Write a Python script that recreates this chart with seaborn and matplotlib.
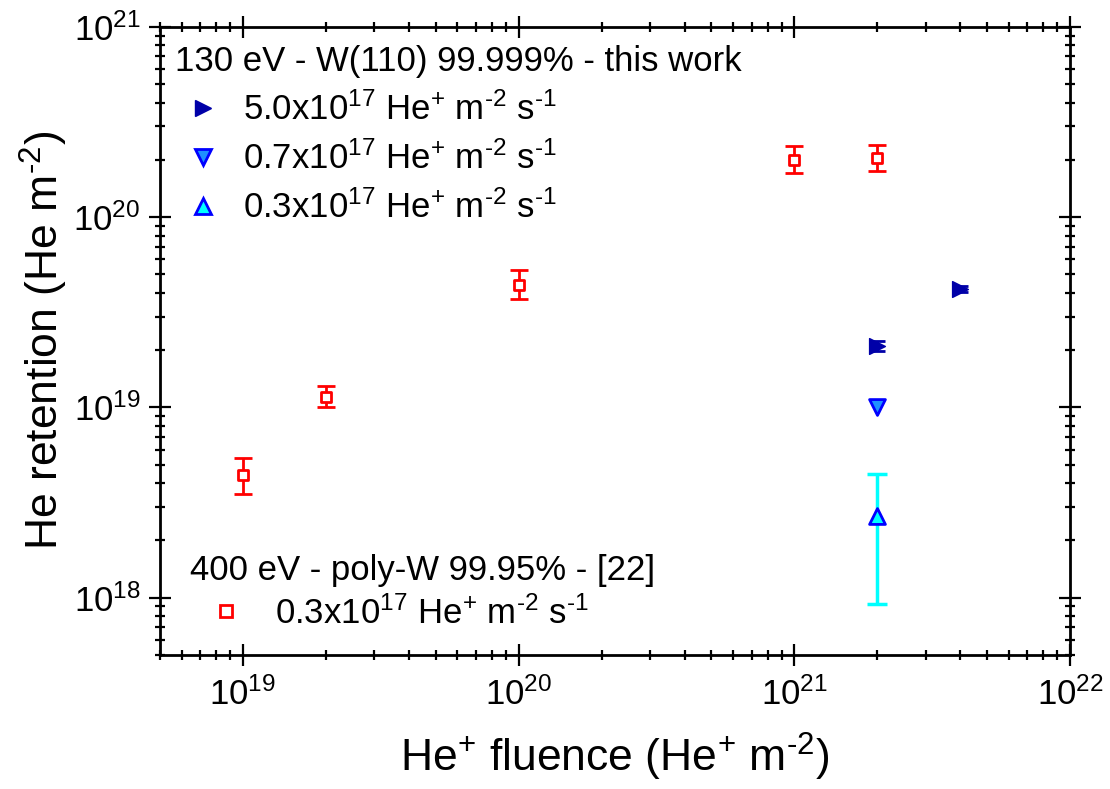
import numpy as np
import pandas as pd
import matplotlib
matplotlib.use("Agg")
import matplotlib.pyplot as plt
import seaborn as sns
from matplotlib.ticker import LogLocator, FuncFormatter, NullFormatter
from matplotlib.lines import Line2D

sns.set_theme(style="ticks")
plt.rcParams['font.family'] = ['Liberation Sans', 'DejaVu Sans']
plt.rcParams['mathtext.fontset'] = 'custom'
plt.rcParams['mathtext.rm'] = 'Liberation Sans'
plt.rcParams['mathtext.it'] = 'Liberation Sans:italic'
plt.rcParams['mathtext.bf'] = 'Liberation Sans:bold'
plt.rcParams['text.color'] = 'black'
plt.rcParams['axes.labelcolor'] = 'black'

# ---- data ----
# 400 eV poly-W, 0.3e17 flux (ref [22])
ref_x = [1e19, 2e19, 1e20, 1e21, 2e21]
ref_y = [4.4e18, 1.14e19, 4.4e19, 2.0e20, 2.05e20]
ref_lo = [3.5e18, 1.0e19, 3.7e19, 1.7e20, 1.75e20]
ref_hi = [5.4e18, 1.29e19, 5.25e19, 2.35e20, 2.38e20]

# this work, 5.0e17 flux
f50_x = [2e21, 4e21]
f50_y = [2.1e19, 4.2e19]
f50_lo = [1.98e19, 4.05e19]
f50_hi = [2.23e19, 4.35e19]

# this work, 0.7e17 flux
f07_x = [2e21]
f07_y = [1.0e19]

# this work, 0.3e17 flux
f03_x = [2e21]
f03_y = [2.7e18]
f03_lo = [9.3e17]
f03_hi = [4.45e18]

xlim = (5e18, 1e22)
ylim = (5e17, 1e21)

unit = r"He$^{+}$ m$^{\text{-2}}$ s$^{\text{-1}}$"
label_50 = r"5.0x10$^{17}$ " + unit
label_07 = r"0.7x10$^{17}$ " + unit
label_03 = r"0.3x10$^{17}$ " + unit
label_ref = r"0.3x10$^{17}$ " + unit
title_top = "130 eV - W(110) 99.999% - this work"
title_bot = "400 eV - poly-W 99.95% - [22]"
xlabel = r"He$^{+}$ fluence (He$^{+}$ m$^{\text{-2}}$)"
ylabel = r"He retention (He m$^{\text{-2}}$)"

# ---- styles ----
c_red = "#FF0000"
c_navy = "#0000A8"
c_blue = "#0000FF"
c_mid = "#1E90FF"
c_cyan = "#00FFFF"

fig = plt.figure(figsize=(11.1, 7.89), dpi=100)
ax = fig.add_axes([0.144, 0.170, 0.820, 0.796])
ax.set_xscale("log")
ax.set_yscale("log")

def yerr(y, lo, hi):
    y = np.array(y); lo = np.array(lo); hi = np.array(hi)
    return np.vstack([y - lo, hi - y])

# error bars
ax.errorbar(ref_x, ref_y, yerr=yerr(ref_y, ref_lo, ref_hi), fmt="none",
            ecolor=c_red, elinewidth=2.0, capsize=6.5, capthick=2.0, zorder=2)
ax.errorbar(f50_x, f50_y, yerr=yerr(f50_y, f50_lo, f50_hi), fmt="none",
            ecolor=c_navy, elinewidth=2.0, capsize=6, capthick=2.0, zorder=2)
ax.errorbar(f03_x, f03_y, yerr=yerr(f03_y, f03_lo, f03_hi), fmt="none",
            ecolor=c_cyan, elinewidth=2.5, capsize=7, capthick=2.5, zorder=2)

# markers via seaborn
df_ref = pd.DataFrame({"x": ref_x, "y": ref_y})
df_50 = pd.DataFrame({"x": f50_x, "y": f50_y})
df_07 = pd.DataFrame({"x": f07_x, "y": f07_y})
df_03 = pd.DataFrame({"x": f03_x, "y": f03_y})

sns.scatterplot(data=df_ref, x="x", y="y", ax=ax, marker="s", s=60,
                facecolor="white", edgecolor=c_red, linewidth=2.0, zorder=3, legend=False)
sns.scatterplot(data=df_50, x="x", y="y", ax=ax, marker=">", s=130,
                color=c_navy, edgecolor=c_navy, linewidth=1.0, zorder=3, legend=False)
sns.scatterplot(data=df_07, x="x", y="y", ax=ax, marker="v", s=130,
                color=c_mid, edgecolor=c_blue, linewidth=2.0, zorder=3, legend=False)
sns.scatterplot(data=df_03, x="x", y="y", ax=ax, marker="^", s=130,
                color=c_cyan, edgecolor=c_blue, linewidth=2.0, zorder=3, legend=False)

ax.set_xlim(*xlim)
ax.set_ylim(*ylim)

# ticks
for axis in (ax.xaxis, ax.yaxis):
    axis.set_major_locator(LogLocator(base=10, numticks=20))
    axis.set_minor_locator(LogLocator(base=10, subs=np.arange(2, 10), numticks=20))
    axis.set_minor_formatter(NullFormatter())
fmt = FuncFormatter(lambda v, p: r"$10^{%d}$" % int(round(np.log10(v))))
ax.xaxis.set_major_formatter(fmt)
ax.yaxis.set_major_formatter(fmt)
ax.tick_params(which="major", direction="inout", length=16, width=1.6,
               top=True, right=True, labelsize=25, color="black", labelcolor="black")
ax.tick_params(which="minor", direction="inout", length=7.5, width=1.6,
               top=True, right=True, color="black")
ax.tick_params(axis="x", which="major", pad=8)
ax.tick_params(axis="y", which="major", pad=6)
for sp in ax.spines.values():
    sp.set_linewidth(2.0)
    sp.set_color("black")
    sp.set_visible(True)

ax.set_xlabel(xlabel, fontsize=32, labelpad=14, color="black")
ax.set_ylabel(ylabel, fontsize=32, labelpad=2, color="black")
ax.grid(False)

# legends
h50 = Line2D([], [], ls="none", marker=">", ms=11, color=c_navy, mec=c_navy)
h07 = Line2D([], [], ls="none", marker="v", ms=11, mfc=c_mid, mec=c_blue, mew=2)
h03 = Line2D([], [], ls="none", marker="^", ms=11, mfc=c_cyan, mec=c_blue, mew=2)
href = Line2D([], [], ls="none", marker="s", ms=8, mfc="white", mec=c_red, mew=2)

leg1 = ax.legend([h50, h07, h03], [label_50, label_07, label_03], title=title_top,
                 loc="upper left", bbox_to_anchor=(-0.01, 1.01), frameon=False,
                 fontsize=25, title_fontsize=25, handlelength=1.6, handletextpad=0.35,
                 labelspacing=0.42, borderaxespad=0.3, alignment="left")
for t in leg1.get_texts():
    t.set_color("black")
leg1.get_title().set_color("black")
ax.add_artist(leg1)
leg2 = ax.legend([href], [label_ref], title=title_bot,
                 loc="lower left", bbox_to_anchor=(0.006, 0.0), frameon=False,
                 fontsize=25, title_fontsize=25, handlelength=2.1, handletextpad=0.37,
                 labelspacing=0.25, borderaxespad=0.3, alignment="left")
for t in leg2.get_texts():
    t.set_color("black")
leg2.get_title().set_color("black")

fig.savefig("out.png", dpi=100, facecolor="white")
